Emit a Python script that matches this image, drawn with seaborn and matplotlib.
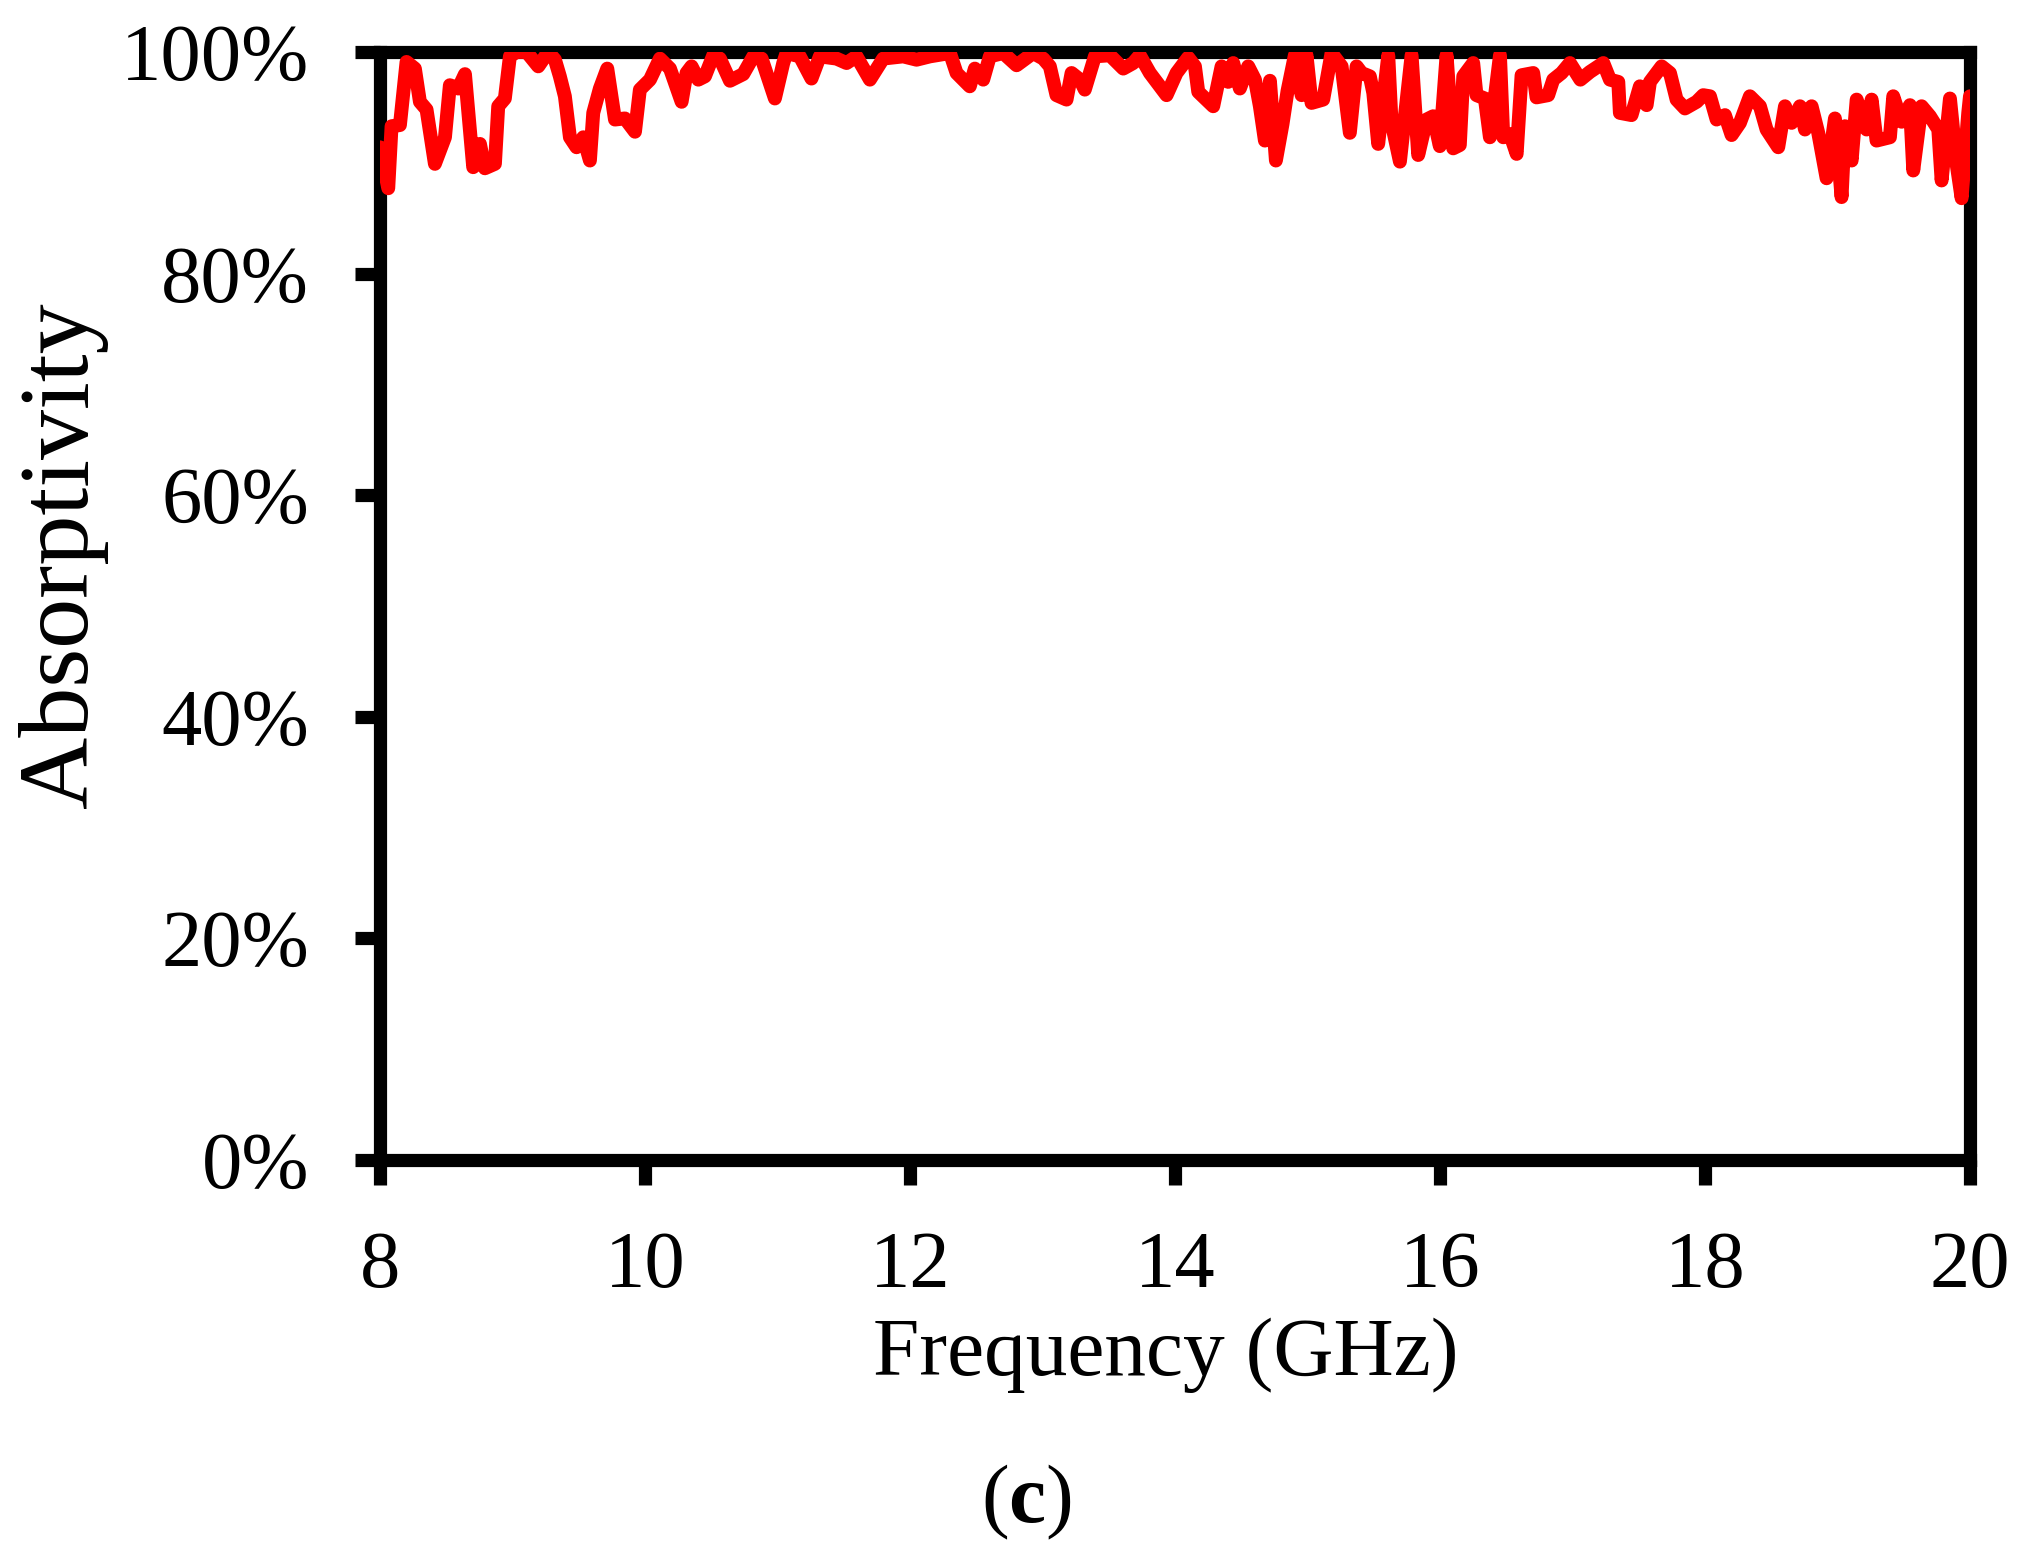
import pandas as pd
import seaborn as sns
import matplotlib.pyplot as plt

#=============================== data
freq_ghz = [8.000, 8.063, 8.088, 8.151, 8.201, 8.264, 8.302, 8.352, 8.415, 8.491,
            8.528, 8.591, 8.642, 8.679, 8.704, 8.755, 8.792, 8.868, 8.893, 8.943,
            8.981, 9.031, 9.107, 9.195, 9.270, 9.321, 9.358, 9.396, 9.434, 9.484,
            9.535, 9.585, 9.610, 9.660, 9.716, 9.774, 9.849, 9.925, 9.962, 10.038,
            10.113, 10.189, 10.277, 10.314, 10.352, 10.403, 10.453, 10.516, 10.566, 10.642,
            10.742, 10.818, 10.881, 10.981, 11.044, 11.069, 11.169, 11.257, 11.320, 11.446,
            11.522, 11.597, 11.698, 11.798, 11.949, 12.050, 12.151, 12.302, 12.352, 12.452,
            12.490, 12.553, 12.603, 12.704, 12.805, 12.930, 13.006, 13.056, 13.106, 13.182,
            13.220, 13.283, 13.320, 13.396, 13.509, 13.610, 13.685, 13.735, 13.811, 13.937,
            14.012, 14.100, 14.151, 14.176, 14.289, 14.352, 14.402, 14.440, 14.490, 14.553,
            14.604, 14.641, 14.679, 14.717, 14.762, 14.812, 14.850, 14.905, 14.956, 14.993,
            15.031, 15.119, 15.182, 15.258, 15.320, 15.371, 15.409, 15.471, 15.497, 15.534,
            15.610, 15.635, 15.698, 15.786, 15.836, 15.899, 15.949, 15.999, 16.050, 16.100,
            16.150, 16.176, 16.251, 16.276, 16.339, 16.377, 16.453, 16.478, 16.528, 16.579,
            16.616, 16.704, 16.729, 16.817, 16.855, 16.918, 16.981, 17.060, 17.132, 17.233,
            17.283, 17.346, 17.358, 17.446, 17.509, 17.560, 17.585, 17.673, 17.736, 17.786,
            17.849, 17.937, 17.987, 18.038, 18.088, 18.151, 18.201, 18.264, 18.339, 18.415,
            18.465, 18.553, 18.604, 18.654, 18.717, 18.755, 18.805, 18.855, 18.918, 18.981,
            19.031, 19.057, 19.107, 19.145, 19.220, 19.258, 19.295, 19.396, 19.421, 19.484,
            19.547, 19.572, 19.635, 19.698, 19.761, 19.786, 19.849, 19.899, 19.937, 19.987,
            20.000]
absorptivity = [91.4, 87.7, 93.3, 93.4, 99.1, 98.5, 95.5, 94.8, 89.9, 92.3,
                97.0, 96.7, 98.0, 93.0, 89.6, 91.7, 89.5, 89.9, 95.1, 95.8,
                99.6, 100.0, 100.0, 98.7, 100.0, 99.3, 97.8, 96.0, 92.3, 91.4,
                92.3, 90.2, 94.5, 96.7, 98.5, 93.9, 94.0, 92.8, 96.6, 97.5,
                99.4, 98.5, 95.5, 98.1, 98.7, 97.5, 97.8, 99.7, 99.4, 97.4,
                98.0, 99.6, 99.4, 95.8, 99.0, 99.9, 99.6, 97.6, 99.6, 99.4,
                99.0, 99.6, 97.5, 99.4, 99.6, 99.3, 99.6, 99.9, 98.1, 96.9,
                98.5, 97.5, 99.6, 99.9, 98.8, 99.9, 99.4, 98.7, 96.1, 95.7,
                98.1, 97.5, 96.6, 99.6, 99.7, 98.5, 99.0, 99.7, 98.1, 96.1,
                98.1, 99.5, 98.7, 96.4, 95.1, 98.7, 97.3, 99.0, 96.7, 98.7,
                97.5, 95.1, 92.0, 97.4, 90.2, 93.5, 96.5, 99.7, 96.1, 99.7,
                95.4, 95.7, 99.9, 98.7, 92.7, 98.7, 98.1, 97.8, 96.3, 91.7,
                99.7, 93.6, 90.1, 99.7, 90.7, 93.9, 94.2, 91.5, 99.7, 91.3,
                91.6, 97.8, 99.0, 96.1, 95.8, 92.3, 99.7, 92.3, 92.6, 90.8,
                97.9, 98.1, 95.9, 96.1, 97.5, 98.1, 99.0, 97.5, 98.2, 99.0,
                97.5, 97.3, 94.5, 94.3, 96.9, 95.2, 97.3, 98.7, 98.1, 95.7,
                94.9, 95.5, 96.1, 96.0, 93.9, 94.3, 92.5, 93.6, 96.0, 95.1,
                93.0, 91.4, 95.1, 93.6, 95.1, 93.0, 95.1, 92.7, 88.6, 94.0,
                86.9, 93.3, 90.2, 95.7, 93.0, 95.7, 92.0, 92.3, 96.0, 93.7,
                95.2, 89.3, 95.1, 94.2, 93.0, 88.4, 95.8, 89.9, 86.8, 94.5,
                96.0]
x_ticks = [8, 10, 12, 14, 16, 18, 20]
y_ticks = [0, 20, 40, 60, 80, 100]
y_tick_labels = ['0%', '20%', '40%', '60%', '80%', '100%']

#=============================== style
sns.set_style("white")
plt.rcParams['font.family'] = ['Liberation Serif', 'DejaVu Serif']
plt.rcParams['mathtext.fontset'] = 'custom'
plt.rcParams['mathtext.rm'] = 'Liberation Serif'
plt.rcParams['mathtext.bf'] = 'Liberation Serif:bold'
plt.rcParams['text.color'] = 'black'
plt.rcParams['axes.labelcolor'] = 'black'
plt.rcParams['xtick.color'] = 'black'
plt.rcParams['ytick.color'] = 'black'

df = pd.DataFrame({'Frequency (GHz)': freq_ghz, 'Absorptivity': absorptivity})

fig = plt.figure(figsize=(20.24, 15.65), dpi=100)
ax = fig.add_axes([0.1877, 0.2588, 0.7856, 0.7080])

sns.lineplot(data=df, x='Frequency (GHz)', y='Absorptivity', ax=ax,
             estimator=None, sort=False, color='#ff0000', linewidth=10,
             solid_joinstyle='round', solid_capstyle='round', zorder=3)

ax.set_xlim(8, 20)
ax.set_ylim(0, 100)
ax.set_xticks(x_ticks)
ax.set_yticks(y_ticks)
ax.set_yticklabels(y_tick_labels)

for sp in ax.spines.values():
    sp.set_visible(True)
    sp.set_linewidth(9.5)
    sp.set_color('black')

ax.tick_params(axis='both', which='major', direction='out', length=18, width=9.5,
               color='black', labelcolor='black', labelsize=58, pad=33,
               bottom=True, left=True, top=False, right=False)

ax.set_xlabel('Frequency (GHz)', fontsize=60, labelpad=10, x=0.494, color='black')
ax.set_ylabel('Absorptivity', fontsize=72, labelpad=9, y=0.546, color='black')

fig.text(1026 / 2024, 1 - 1502 / 1565, r'($\mathbf{c}$)', fontsize=60,
         ha='center', va='center', color='black')

fig.savefig('out.png', dpi=100)
